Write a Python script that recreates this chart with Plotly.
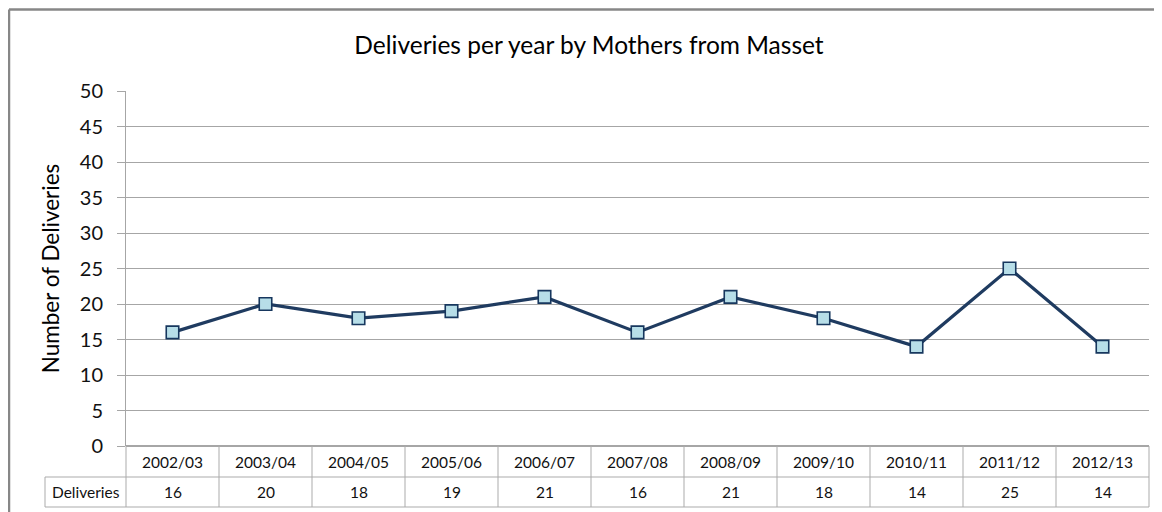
import plotly.graph_objects as go

# Data
YEARS = ["2002/03", "2003/04", "2004/05", "2005/06", "2006/07", "2007/08",
         "2008/09", "2009/10", "2010/11", "2011/12", "2012/13"]
DELIVERIES = [16, 20, 18, 19, 21, 16, 21, 18, 14, 25, 14]
Y_TICKS = list(range(0, 51, 5))

FONT = "Lato"
LINE_COLOR = "#1F3B60"
MARKER_FILL = "#B7DEE8"
GRID_COLOR = "#A6A6A6"
TABLE_COLOR = "#ABABAB"

# Figure geometry (pixels, figure coordinates; the page adds an 8px body margin)
W, H = 1154, 504
PLOT_L, PLOT_R, PLOT_T, PLOT_B = 118, 1141, 83, 438
ROW1_B, ROW2_B = 469, 499
LABEL_L = 37


def py_paper(py):
    return (PLOT_B - py) / (PLOT_B - PLOT_T)


def px_paper(px):
    return (px - PLOT_L) / (PLOT_R - PLOT_L)


n = len(YEARS)
x_idx = list(range(n))

fig = go.Figure()
fig.add_trace(
    go.Scatter(
        x=x_idx,
        y=DELIVERIES,
        mode="lines+markers",
        line=dict(color=LINE_COLOR, width=3.2),
        marker=dict(symbol="square", size=12.5, color=MARKER_FILL,
                    line=dict(color="#17375E", width=1.6)),
        showlegend=False,
        cliponaxis=False,
    )
)

shapes = []
# table grid: vertical lines at category boundaries
for i in range(n + 1):
    shapes.append(dict(type="line", xref="paper", yref="paper",
                       x0=i / n, x1=i / n, y0=0, y1=py_paper(ROW2_B),
                       line=dict(color=TABLE_COLOR, width=1)))
# horizontal lines of the table
for yb in (ROW1_B, ROW2_B):
    shapes.append(dict(type="line", xref="paper", yref="paper",
                       x0=px_paper(LABEL_L), x1=1, y0=py_paper(yb), y1=py_paper(yb),
                       line=dict(color=TABLE_COLOR, width=1)))
# left edge of the "Deliveries" label cell
shapes.append(dict(type="line", xref="paper", yref="paper",
                   x0=px_paper(LABEL_L), x1=px_paper(LABEL_L),
                   y0=py_paper(ROW1_B), y1=py_paper(ROW2_B),
                   line=dict(color=TABLE_COLOR, width=1)))
# chart frame (only top and left edges are inside the crop)
shapes.append(dict(type="line", xref="paper", yref="paper",
                   x0=px_paper(1), x1=px_paper(W + 10), y0=py_paper(1.5), y1=py_paper(1.5),
                   line=dict(color="#878787", width=2.5)))
shapes.append(dict(type="line", xref="paper", yref="paper",
                   x0=px_paper(1), x1=px_paper(1), y0=py_paper(1.5), y1=py_paper(H + 10),
                   line=dict(color="#878787", width=2.5)))

annotations = []
row1_c = py_paper((PLOT_B + ROW1_B) / 2)
row2_c = py_paper((ROW1_B + ROW2_B) / 2)
table_font = dict(size=15.5, color="#111")
for i, (yr, v) in enumerate(zip(YEARS, DELIVERIES)):
    annotations.append(dict(x=i, y=row1_c, xref="x", yref="paper", text=yr,
                            showarrow=False, font=table_font,
                            xanchor="center", yanchor="middle"))
    annotations.append(dict(x=i, y=row2_c, xref="x", yref="paper", text=str(v),
                            showarrow=False, font=table_font,
                            xanchor="center", yanchor="middle"))
annotations.append(dict(x=px_paper((LABEL_L + PLOT_L) / 2), y=row2_c,
                        xref="paper", yref="paper", text="Deliveries",
                        showarrow=False, font=table_font,
                        xanchor="center", yanchor="middle"))

fig.update_layout(
    width=W,
    height=H,
    margin=dict(l=PLOT_L, r=W - PLOT_R, t=PLOT_T, b=H - PLOT_B),
    paper_bgcolor="white",
    plot_bgcolor="white",
    font=dict(family=FONT, color="#111"),
    title=dict(text="Deliveries per year by Mothers from Masset",
               x=581 / W,
               xanchor="center", y=1 - 37 / H, yanchor="middle",
               font=dict(size=24.5, color="#000")),
    xaxis=dict(
        range=[-0.5, n - 0.5],
        showticklabels=False,
        showgrid=False,
        zeroline=False,
        showline=False,
        ticks="",
    ),
    yaxis=dict(
        range=[0, 50],
        tickvals=Y_TICKS,
        ticks="outside",
        ticklen=8,
        tickcolor=GRID_COLOR,
        tickfont=dict(size=20, color="#111"),
        ticklabelstandoff=10,
        showgrid=True,
        gridcolor=GRID_COLOR,
        gridwidth=1,
        zeroline=True,
        zerolinecolor=GRID_COLOR,
        showline=True,
        linecolor=GRID_COLOR,
        title=dict(text="Number of Deliveries", font=dict(size=22.5, color="#000"),
                   standoff=13),
    ),
    shapes=shapes,
    annotations=annotations,
)

fig.write_html("out.html")
